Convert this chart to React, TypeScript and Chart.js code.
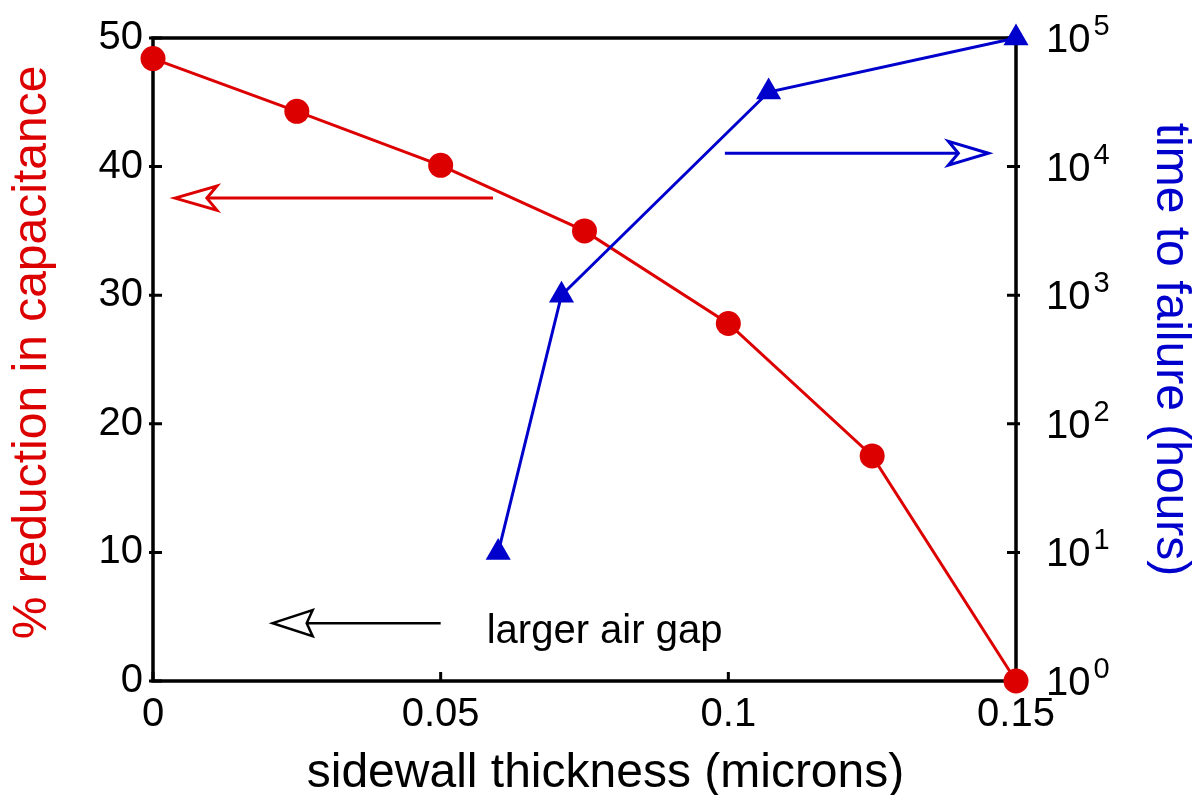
import React, { useEffect, useRef } from 'react';
import { Chart, registerables } from 'chart.js';
Chart.register(...registerables);

const FONT = '"Liberation Sans", Arial, Helvetica, sans-serif';
const RED = '#dd0000';
const BLUE = '#0000cc';

// Data
const capThickness = [0, 0.025, 0.05, 0.075, 0.1, 0.125, 0.15];
const capReduction = [48.4, 44.3, 40.1, 35.0, 27.8, 17.5, 0];
const ttfThickness = [0.06, 0.071, 0.107, 0.15];
const ttfHours = [10, 1000, 38000, 100000];

// Ticks
const xTicks = [0, 0.05, 0.1, 0.15];
const yTicks = [0, 10, 20, 30, 40, 50];
const y2Ticks = [1, 10, 100, 1000, 10000, 100000];
const y2Exponents = ['0', '1', '2', '3', '4', '5'];

// Titles
const xTitle = 'sidewall thickness (microns)';
const yTitle = '% reduction in capacitance';
const y2Title = 'time to failure (hours)';

// Annotations (data coordinates)
const redArrow = { fromX: 0.0591, toX: 0.0038, y: 37.55 };
const blueArrow = { fromX: 0.0994, toX: 0.1452, y: 12700 };
const blackArrow = { fromX: 0.0500, toX: 0.0208, y: 4.5 };
const gapLabel = { text: 'larger air gap', x: 0.058, y: 3.8 };

function drawArrow(ctx: CanvasRenderingContext2D, x1: number, x2: number, y: number, color: string, lw: number, L: number, W: number, N: number) {
  const d = x2 > x1 ? -1 : 1;
  ctx.save();
  ctx.strokeStyle = color;
  ctx.lineWidth = lw;
  ctx.lineJoin = 'miter';
  ctx.beginPath();
  ctx.moveTo(x1, y);
  ctx.lineTo(x2 + d * N, y);
  ctx.stroke();
  ctx.beginPath();
  ctx.moveTo(x2, y);
  ctx.lineTo(x2 + d * L, y - W);
  ctx.lineTo(x2 + d * N, y);
  ctx.lineTo(x2 + d * L, y + W);
  ctx.closePath();
  ctx.fillStyle = '#fff';
  ctx.fill();
  ctx.stroke();
  ctx.restore();
}

const decorPlugin = {
  id: 'decor',
  beforeDatasetsDraw(chart: any) {
    const { ctx, chartArea: a, scales } = chart;
    ctx.save();
    ctx.strokeStyle = '#000';
    ctx.lineWidth = 3.5;
    ctx.strokeRect(a.left, a.top, a.right - a.left, a.bottom - a.top);
    ctx.lineWidth = 3;
    ctx.beginPath();
    for (const v of xTicks) {
      const px = scales.x.getPixelForValue(v);
      ctx.moveTo(px, a.bottom);
      ctx.lineTo(px, a.bottom - 9);
    }
    for (const v of yTicks) {
      const py = scales.y.getPixelForValue(v);
      ctx.moveTo(a.left - 4, py);
      ctx.lineTo(a.left + 9, py);
    }
    for (const v of y2Ticks) {
      const py = scales.y2.getPixelForValue(v);
      ctx.moveTo(a.right - 9, py);
      ctx.lineTo(a.right + 4, py);
    }
    ctx.stroke();
    // right tick labels with superscripts
    ctx.fillStyle = '#000';
    ctx.textBaseline = 'alphabetic';
    ctx.textAlign = 'left';
    y2Ticks.forEach((v, i) => {
      const py = scales.y2.getPixelForValue(v);
      const x0 = a.right + 30;
      ctx.font = `40px ${FONT}`;
      ctx.fillText('10', x0, py + 14);
      const w = ctx.measureText('10').width;
      ctx.font = `29px ${FONT}`;
      ctx.fillText(y2Exponents[i], x0 + w + 3, py - 3);
    });
    // axis titles
    ctx.font = `48px ${FONT}`;
    ctx.textAlign = 'center';
    ctx.textBaseline = 'middle';
    ctx.fillStyle = '#000';
    ctx.fillText(xTitle, (a.left + a.right) / 2 + 21, 774);
    ctx.save();
    ctx.translate(33, (a.top + a.bottom) / 2 - 7);
    ctx.rotate(-Math.PI / 2);
    ctx.fillStyle = RED;
    ctx.fillText(yTitle, 0, 0);
    ctx.restore();
    ctx.save();
    ctx.translate(1170, (a.top + a.bottom) / 2 - 10);
    ctx.rotate(Math.PI / 2);
    ctx.fillStyle = BLUE;
    ctx.fillText(y2Title, 0, 0);
    ctx.restore();
    ctx.restore();
  },
  afterDatasetsDraw(chart: any) {
    const { ctx, scales } = chart;
    const x = scales.x, y = scales.y, y2 = scales.y2;
    drawArrow(ctx, x.getPixelForValue(redArrow.fromX), x.getPixelForValue(redArrow.toX), y.getPixelForValue(redArrow.y), RED, 3, 42, 12, 32);
    drawArrow(ctx, x.getPixelForValue(blueArrow.fromX), x.getPixelForValue(blueArrow.toX), y2.getPixelForValue(blueArrow.y), BLUE, 3, 40, 12, 30);
    drawArrow(ctx, x.getPixelForValue(blackArrow.fromX), x.getPixelForValue(blackArrow.toX), y.getPixelForValue(blackArrow.y), '#000', 2.5, 40, 13, 34);
    ctx.save();
    ctx.fillStyle = '#000';
    ctx.font = `40px ${FONT}`;
    ctx.textAlign = 'left';
    ctx.textBaseline = 'middle';
    ctx.fillText(gapLabel.text, x.getPixelForValue(gapLabel.x), y.getPixelForValue(gapLabel.y));
    ctx.restore();
  },
};

export default function App() {
  const ref = useRef<HTMLCanvasElement>(null);
  useEffect(() => {
    const chart = new Chart(ref.current as HTMLCanvasElement, {
      type: 'line',
      data: {
        datasets: [
          {
            data: ttfThickness.map((t, i) => ({ x: t, y: ttfHours[i] })),
            xAxisID: 'x',
            yAxisID: 'y2',
            borderColor: BLUE,
            backgroundColor: BLUE,
            borderWidth: 3,
            pointStyle: 'triangle',
            pointRadius: 14.5,
            pointBorderWidth: 0,
            tension: 0,
            clip: false as any,
          },
          {
            data: capThickness.map((t, i) => ({ x: t, y: capReduction[i] })),
            xAxisID: 'x',
            yAxisID: 'y',
            borderColor: RED,
            backgroundColor: RED,
            borderWidth: 3,
            pointStyle: 'circle',
            pointRadius: 12.5,
            pointBorderWidth: 0,
            tension: 0,
            clip: false as any,
          },
        ],
      },
      options: {
        responsive: false,
        animation: false,
        layout: { padding: { top: 38, left: 0, right: 0, bottom: 0 } },
        plugins: { legend: { display: false }, tooltip: { enabled: false } },
        scales: {
          x: {
            type: 'linear',
            position: 'bottom',
            min: 0,
            max: 0.15,
            afterFit: (s: any) => { s.height = 114; },
            afterBuildTicks: (s: any) => { s.ticks = xTicks.map((v) => ({ value: v })); },
            grid: { display: false, drawTicks: false },
            border: { display: false },
            ticks: {
              font: { family: FONT, size: 40 },
              color: '#000',
              padding: 10,
              maxRotation: 0,
              autoSkip: false,
              callback: (v: any) => String(v),
            },
            title: { display: false },
          },
          y: {
            type: 'linear',
            position: 'left',
            min: 0,
            max: 50,
            afterFit: (s: any) => { s.width = 153; },
            afterBuildTicks: (s: any) => { s.ticks = yTicks.map((v) => ({ value: v })); },
            grid: { display: false, drawTicks: false },
            border: { display: false },
            ticks: {
              font: { family: FONT, size: 40 },
              color: '#000',
              padding: 10,
              callback: (v: any) => String(v),
            },
            title: { display: false },
          },
          y2: {
            type: 'logarithmic',
            position: 'right',
            min: 1,
            max: 100000,
            afterFit: (s: any) => { s.width = 182; },
            afterBuildTicks: (s: any) => { s.ticks = y2Ticks.map((v) => ({ value: v })); },
            grid: { display: false, drawTicks: false },
            border: { display: false },
            ticks: { display: false },
            title: { display: false },
          },
        },
      },
      plugins: [decorPlugin],
    } as any);
    return () => chart.destroy();
  }, []);
  return (
    <div style={{ position: 'absolute', left: 0, top: 0, width: 1198, height: 795, background: '#fff' }}>
      <canvas ref={ref} width={1198} height={795} style={{ display: 'block' }} />
    </div>
  );
}
